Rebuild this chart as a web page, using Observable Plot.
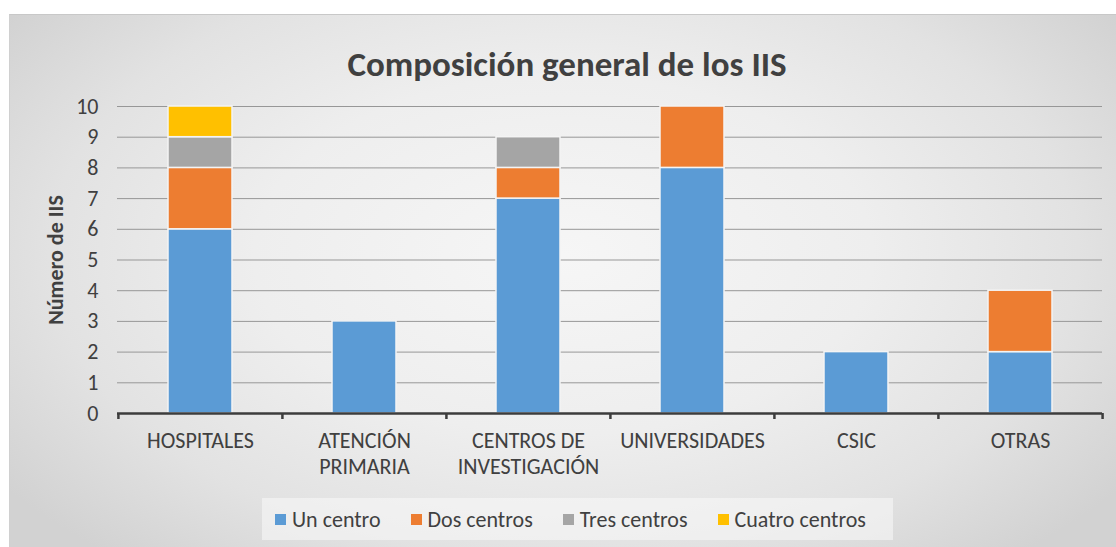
<!DOCTYPE html>
<html>
<head>
<meta charset="utf-8">
<script src="https://cdn.jsdelivr.net/npm/d3@7"></script>
<script src="https://cdn.jsdelivr.net/npm/@observablehq/plot@0.6"></script>
<style>
  html, body { margin: 0; padding: 0; background: #ffffff; }
  #wrap { position: relative; width: 1116px; height: 547px; overflow: hidden; font-family: Carlito, Calibri, Lato, "Open Sans", sans-serif; }
  #bg { position: absolute; left: 9px; top: 14px; width: 1107px; height: 533px;
        border-top: 1px solid #c8c8c8; border-left: 1px solid #d0d0d0;
        background: radial-gradient(ellipse 62% 75% at 50% 45%, #f6f6f6 0%, #eeeeee 45%, #e2e2e2 75%, #d2d2d2 100%); }
  #title { position: absolute; left: 0; top: 47px; width: 1134px; text-align: center; font-size: 35px; line-height: 35px; font-weight: bold; color: #404040; }
  #chart { position: absolute; left: 0; top: 80px; }
  #legendBox { position: absolute; left: 262px; top: 498px; width: 631px; height: 42px; background: rgba(250,250,250,0.55); }
  #legend { position: absolute; left: 275px; top: 503px; }
  .lg-swatch { margin-right: 30px !important; }
  .lg-swatch > svg { margin-right: 6px !important; }
</style>
</head>
<body>
<div id="wrap">
  <div id="bg"></div>
  <div id="title">Composición general de los IIS</div>
  <div id="chart"></div>
  <div id="legendBox"></div>
  <div id="legend"></div>
</div>
<script>
// ---- data ----
const categories = ["HOSPITALES", "ATENCIÓN PRIMARIA", "CENTROS DE INVESTIGACIÓN", "UNIVERSIDADES", "CSIC", "OTRAS"];
const categoryLabels = ["HOSPITALES", "ATENCIÓN\nPRIMARIA", "CENTROS DE\nINVESTIGACIÓN", "UNIVERSIDADES", "CSIC", "OTRAS"];
const seriesNames = ["Un centro", "Dos centros", "Tres centros", "Cuatro centros"];
const unCentro     = [6, 3, 7, 8, 2, 2];
const dosCentros   = [2, 0, 1, 2, 0, 2];
const tresCentros  = [1, 0, 1, 0, 0, 0];
const cuatroCentros= [1, 0, 0, 0, 0, 0];
const yTicks = [0, 1, 2, 3, 4, 5, 6, 7, 8, 9, 10];
const seriesColors = ["#5B9BD5", "#ED7D31", "#A5A5A5", "#FFC000"];
const yLabel = "Número de IIS";

// ---- table ----
const seriesValues = [unCentro, dosCentros, tresCentros, cuatroCentros];
const rows = [];
seriesNames.forEach((s, si) => categories.forEach((c, ci) => rows.push({cat: c, series: s, value: seriesValues[si][ci]})));
const labelOf = new Map(categories.map((c, i) => [c, categoryLabels[i]]));

const font = "Carlito, Calibri, Lato, 'Open Sans', sans-serif";
const W = 1116, H = 400, mL = 117, mR = 14, mT = 26, mB = 67;
const paddingInner = 0.61, paddingOuter = 0.305;
const step = (W - mL - mR) / (categories.length - paddingInner + 2 * paddingOuter);

const colorScale = {domain: seriesNames, range: seriesColors};

const plot = Plot.plot({
  width: W, height: H,
  marginLeft: mL, marginRight: mR, marginTop: mT, marginBottom: mB,
  style: {background: "transparent", fontFamily: font, color: "#404040", overflow: "visible"},
  x: {domain: categories, paddingInner, paddingOuter, label: null},
  y: {domain: [0, 10], label: null},
  color: colorScale,
  marks: [
    Plot.gridY(yTicks.filter(d => d > 0), {stroke: "#979797", strokeOpacity: 1, strokeWidth: 1}),
    Plot.barY(rows, {filter: d => d.value > 0, x: "cat", y: "value", fill: "series", stroke: "#f4f4f4", strokeWidth: 1.5, order: seriesNames}),
    Plot.ruleY([0], {stroke: "#3c3c3c", strokeWidth: 2.5}),
    Plot.ruleX(categories, {x: d => d, y1: 0, y2: 0, dx: -step / 2, insetBottom: -6, stroke: "#3c3c3c", strokeWidth: 2.5}),
    Plot.ruleX([categories[categories.length - 1]], {x: d => d, y1: 0, y2: 0, dx: step / 2, insetBottom: -6, stroke: "#3c3c3c", strokeWidth: 2.5}),
    Plot.axisY(yTicks, {tickSize: 0, tickPadding: 19, fontSize: 22, fill: "#404040", label: null}),
    Plot.axisX({tickSize: 0, tickPadding: 15, fontSize: 22, lineHeight: 1.22, fill: "#404040", label: null, tickFormat: d => labelOf.get(d)}),
    Plot.text([yLabel], {frameAnchor: "left", dx: -62, rotate: -90, textAnchor: "middle", fontSize: 22, fontWeight: "bold", fill: "#404040"})
  ]
});
document.getElementById("chart").appendChild(plot);

const legend = plot.legend("color", {
  className: "lg",
  swatchSize: 11,
  style: {fontSize: "22px", fontFamily: font, color: "#404040"}
});
document.getElementById("legend").appendChild(legend);
</script>
</body>
</html>
